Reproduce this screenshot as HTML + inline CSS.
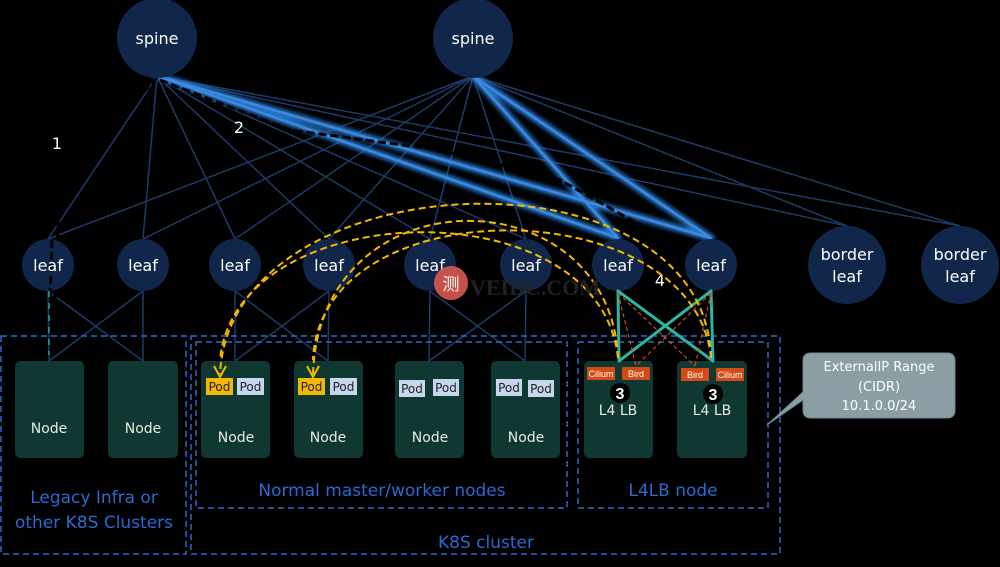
<!DOCTYPE html>
<html><head><meta charset="utf-8"><style>
html,body{margin:0;padding:0;background:#000;}
svg{display:block;font-family:"Liberation Sans",sans-serif;}
</style></head><body>
<svg width="1000" height="567" viewBox="0 0 1000 567" xmlns="http://www.w3.org/2000/svg">
<defs>
<filter id="blur" x="-20%" y="-20%" width="140%" height="140%"><feGaussianBlur stdDeviation="2"/></filter>
</defs>
<rect width="1000" height="567" fill="#000"/>
<g stroke="#1d3a68" stroke-width="1.5" fill="none">
<line x1="157" y1="76" x2="48" y2="239"/><line x1="157" y1="76" x2="143" y2="239"/><line x1="157" y1="76" x2="235" y2="239"/><line x1="157" y1="76" x2="329" y2="239"/><line x1="157" y1="76" x2="430" y2="239"/><line x1="157" y1="76" x2="526" y2="239"/><line x1="157" y1="76" x2="618" y2="239"/><line x1="157" y1="76" x2="711" y2="239"/><line x1="157" y1="76" x2="847" y2="226"/><line x1="157" y1="76" x2="960" y2="226"/>
<line x1="473" y1="76" x2="48" y2="239"/><line x1="473" y1="76" x2="143" y2="239"/><line x1="473" y1="76" x2="235" y2="239"/><line x1="473" y1="76" x2="329" y2="239"/><line x1="473" y1="76" x2="430" y2="239"/><line x1="473" y1="76" x2="526" y2="239"/><line x1="473" y1="76" x2="618" y2="239"/><line x1="473" y1="76" x2="711" y2="239"/><line x1="473" y1="76" x2="847" y2="226"/><line x1="473" y1="76" x2="960" y2="226"/>
<line x1="48" y1="291" x2="49" y2="361"/><line x1="143" y1="291" x2="143" y2="361"/><line x1="48" y1="291" x2="143" y2="361"/><line x1="143" y1="291" x2="49" y2="361"/>
<line x1="235" y1="291" x2="235" y2="361"/><line x1="329" y1="291" x2="328" y2="361"/><line x1="235" y1="291" x2="328" y2="361"/><line x1="329" y1="291" x2="235" y2="361"/>
<line x1="430" y1="291" x2="429" y2="361"/><line x1="526" y1="291" x2="525" y2="361"/><line x1="430" y1="291" x2="525" y2="361"/><line x1="526" y1="291" x2="429" y2="361"/>
</g>
<g stroke="#2b78d0" stroke-width="7" filter="url(#blur)" stroke-linecap="round" opacity="0.95">
<line x1="157" y1="76" x2="618" y2="238"/><line x1="157" y1="76" x2="711" y2="238"/>
<line x1="473" y1="76" x2="618" y2="238"/><line x1="473" y1="76" x2="711" y2="238"/>
</g>
<g stroke="#3a8ae0" stroke-width="2.5" stroke-linecap="round">
<line x1="157" y1="76" x2="618" y2="238"/><line x1="157" y1="76" x2="711" y2="238"/>
<line x1="473" y1="76" x2="618" y2="238"/><line x1="473" y1="76" x2="711" y2="238"/>
</g>
<path d="M160,80 L290,130 L440,150 L560,180 L640,225" stroke="#000" stroke-width="3" stroke-dasharray="8,4" fill="none"/>
<path d="M157,78 L60,180 L55,300" stroke="#000" stroke-width="3" stroke-dasharray="8,4" fill="none"/>
<g fill="#10264a">
<circle cx="157" cy="38" r="40"/><circle cx="473" cy="38" r="40"/>
<circle cx="48" cy="265" r="26"/><circle cx="143" cy="265" r="26"/><circle cx="235" cy="265" r="26"/><circle cx="329" cy="265" r="26"/><circle cx="430" cy="265" r="26"/><circle cx="526" cy="265" r="26"/><circle cx="618" cy="265" r="26"/><circle cx="711" cy="265" r="26"/>
<circle cx="847" cy="265" r="39"/><circle cx="960" cy="265" r="39"/>
</g>
<line x1="52" y1="240" x2="50" y2="300" stroke="#000" stroke-width="3" stroke-dasharray="8,4"/>
<line x1="49" y1="291" x2="49" y2="355" stroke="#1fa89a" stroke-width="1.5" stroke-dasharray="6,6"/>
<g fill="#fff" font-size="16" text-anchor="middle" font-family="'DejaVu Sans',sans-serif">
<text x="157" y="44">spine</text><text x="473" y="44">spine</text>
<text x="48" y="271">leaf</text><text x="143" y="271">leaf</text><text x="235" y="271">leaf</text><text x="329" y="271">leaf</text><text x="430" y="271">leaf</text><text x="526" y="271">leaf</text><text x="618" y="271">leaf</text><text x="711" y="271">leaf</text>
<text x="847" y="260">border</text><text x="847" y="282">leaf</text><text x="960" y="260">border</text><text x="960" y="282">leaf</text>
<text x="57" y="149">1</text><text x="239" y="133">2</text><text x="660" y="286">4</text>
</g>
<g fill="none" stroke="#2a6ad0" stroke-width="1.5" stroke-dasharray="6,4">
<rect x="1" y="336" width="185" height="218"/>
<rect x="191" y="336" width="589" height="218"/>
<rect x="196" y="342" width="371" height="166"/>
<rect x="578" y="342" width="190" height="166"/>
</g>
<g fill="#103833">
<rect x="15" y="361" width="69" height="97" rx="5"/><rect x="108" y="361" width="70" height="97" rx="5"/>
<rect x="201" y="361" width="69" height="97" rx="5"/><rect x="294" y="361" width="69" height="97" rx="5"/>
<rect x="395" y="361" width="69" height="97" rx="5"/><rect x="491" y="361" width="69" height="97" rx="5"/>
<rect x="584" y="361" width="69" height="97" rx="5"/><rect x="677" y="361" width="70" height="97" rx="5"/>
</g>
<g fill="#e8ebe0" font-size="14" text-anchor="middle" font-family="'DejaVu Sans',sans-serif">
<text x="49" y="433">Node</text><text x="143" y="433">Node</text>
<text x="236" y="442">Node</text><text x="328" y="442">Node</text><text x="430" y="442">Node</text><text x="526" y="442">Node</text>
<text x="618" y="415">L4 LB</text><text x="712" y="415">L4 LB</text>
</g>
<g font-size="12" text-anchor="middle" font-family="'DejaVu Sans',sans-serif" fill="#222">
<rect x="206" y="378" width="27" height="17" fill="#f5b800"/><text x="219.5" y="391">Pod</text>
<rect x="237" y="378" width="27" height="17" fill="#c5d6ee"/><text x="250.5" y="391">Pod</text>
<rect x="298" y="378" width="27" height="17" fill="#f5b800"/><text x="311.5" y="391">Pod</text>
<rect x="330" y="378" width="27" height="17" fill="#c5d6ee"/><text x="343.5" y="391">Pod</text>
<rect x="399" y="380" width="26" height="17" fill="#c5d6ee"/><text x="412" y="393">Pod</text>
<rect x="433" y="379" width="26" height="17" fill="#c5d6ee"/><text x="446" y="392">Pod</text>
<rect x="496" y="379" width="26" height="17" fill="#c5d6ee"/><text x="509" y="392">Pod</text>
<rect x="528" y="380" width="26" height="17" fill="#c5d6ee"/><text x="541" y="393">Pod</text>
</g>
<g font-size="9" text-anchor="middle" fill="#fff">
<rect x="587" y="367" width="28" height="13" fill="#d24a14"/><text x="601" y="377">Cilium</text>
<rect x="622" y="367" width="28" height="13" fill="#d24a14"/><text x="636" y="377">Bird</text>
<rect x="681" y="368" width="28" height="13" fill="#d24a14"/><text x="695" y="378">Bird</text>
<rect x="716" y="368" width="28" height="13" fill="#d24a14"/><text x="730" y="378">Cilium</text>
</g>
<circle cx="620" cy="393" r="10" fill="#000"/><circle cx="713" cy="394" r="10" fill="#000"/>
<g fill="#fff" font-size="16" text-anchor="middle" font-weight="bold"><text x="620" y="399">3</text><text x="713" y="400">3</text></g>
<g stroke="#2bb5a5" stroke-width="3" stroke-linecap="round">
<line x1="618" y1="291" x2="619" y2="361"/><line x1="711" y1="291" x2="713" y2="361"/>
<line x1="618" y1="291" x2="713" y2="361"/><line x1="711" y1="291" x2="619" y2="361"/>
</g>
<g stroke="#d24a14" stroke-width="1.2" stroke-dasharray="4,3" fill="none">
<line x1="618" y1="293" x2="636" y2="366"/><line x1="711" y1="293" x2="695" y2="366"/>
<line x1="618" y1="293" x2="695" y2="366"/><line x1="711" y1="293" x2="636" y2="366"/>
</g>
<g stroke="#f5b800" stroke-width="2" stroke-dasharray="7,4" fill="none">
<path d="M711,358 C705,140 230,160 220,374"/>
<path d="M618,358 C610,175 320,170 313,374"/>
<path d="M711,358 C695,190 320,185 313,360"/>
<path d="M618,358 C600,185 235,195 220,360"/>
</g>
<g stroke="#f5b800" stroke-width="2" fill="none">
<path d="M214,366 L220,377 L226,366"/><path d="M307,366 L313,377 L319,366"/>
</g>
<g fill="#2a6ad0" font-size="17" text-anchor="middle" font-family="'DejaVu Sans',sans-serif">
<text x="94" y="503">Legacy Infra or</text><text x="94" y="528">other K8S Clusters</text>
<text x="382" y="496">Normal master/worker nodes</text>
<text x="673" y="496">L4LB node</text>
<text x="486" y="548">K8S cluster</text>
</g>
<path d="M811,353 H947 Q955,353 955,361 V410 Q955,418 947,418 H811 Q803,418 803,410 V400 L767,425 L803,392 V361 Q803,353 811,353 Z" fill="#8b9ea4" stroke="#6f8a95"/>
<g fill="#fff" font-size="13" text-anchor="middle" font-family="'DejaVu Sans',sans-serif">
<text x="879" y="371">ExternalIP Range</text><text x="879" y="391">(CIDR)</text><text x="879" y="410">10.1.0.0/24</text>
</g>
<circle cx="451" cy="283" r="17" fill="#d85a50" opacity="0.9"/>
<text x="451" y="290" fill="#fff" font-size="17" text-anchor="middle" font-family="'Noto Sans CJK SC',sans-serif">测</text>
<text x="470" y="295" fill="#222" font-size="22" font-family="'Liberation Serif',serif" font-weight="bold">VEIDC.COM</text>
</svg>
</body></html>
